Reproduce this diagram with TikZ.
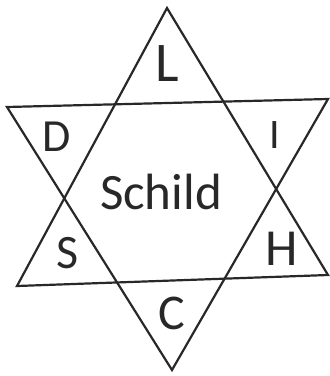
\documentclass[tikz,border=0pt]{standalone}
\usepackage{fontspec}
\setmainfont{Carlito}
\usepackage{tikz}
\usetikzlibrary{
  calc,
  positioning
}
\definecolor{InkGray}{RGB}{40,40,40}
\tikzset{
  starline/.style={draw=InkGray,line width=2.2pt,line join=miter},
  cornerletter/.style={text=InkGray,font=\fontsize{48}{48}\selectfont,inner sep=0pt},
  centerword/.style={text=InkGray,font=\fontsize{51}{51}\selectfont,inner sep=0pt}
}

\begin{document}
\begin{tikzpicture}[x=1pt,y=-1pt]
\useasboundingbox (0,0) rectangle (330,376);
% upward triangle
\coordinate (uptop) at (167,8);
\coordinate (upleft) at (17,286);
\coordinate (upright) at (328,275);
% downward triangle
\coordinate (downleft) at (7,107);
\coordinate (downright) at (328,99);
\coordinate (downbot) at (172,370);
\draw[starline] (uptop) -- (upleft) -- (upright) -- cycle;
\draw[starline] (downleft) -- (downright) -- (downbot) -- cycle;
\node[centerword] (schild) at (161,192) {Schild};
\node[cornerletter,font=\fontsize{56}{56}\selectfont] (l) at (167,64) {L};
\node[cornerletter,font=\fontsize{46}{46}\selectfont] (d) at (57,137) {D};
\node[cornerletter,font=\fontsize{42}{42}\selectfont] (i) at (275,135) {I};
\node[cornerletter,font=\fontsize{48}{48}\selectfont] (s) at (68,253) {S};
\node[cornerletter,font=\fontsize{52}{52}\selectfont] (h) at (282,249) {H};
\node[cornerletter,font=\fontsize{50}{50}\selectfont] (c) at (172,313) {C};
\end{tikzpicture}
\end{document}
